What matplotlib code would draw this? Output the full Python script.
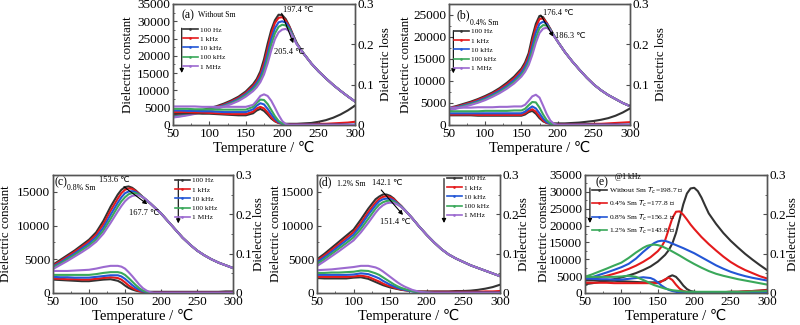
import matplotlib
matplotlib.use("Agg")
import matplotlib.pyplot as plt
from matplotlib.lines import Line2D
from matplotlib.ticker import MultipleLocator, FuncFormatter
from matplotlib.font_manager import FontProperties

plt.rcParams['font.family'] = ['Liberation Serif', 'DejaVu Sans']
plt.rcParams['mathtext.fontset'] = 'stix'

# ── Data ──────────────────────────────────────────────────────────────────────
FREQS = ["100 Hz", "1 kHz", "10 kHz", "100 kHz", "1 MHz"]
COLORS = ["#333333", "#e41a1c", "#2356d6", "#3aa85a", "#9c6ad0"]

# (a) without Sm
ta = [50, 60, 70, 80, 90, 100, 110, 120, 130, 140, 150, 160, 165, 170, 175, 180,
      185, 190, 195, 200, 205, 210, 215, 220, 230, 240, 250, 260, 270, 280, 290, 300]
a_eps_100 = [2800, 3100, 3450, 3850, 4300, 4850, 5450, 6200, 7100, 8200, 9700, 11800, 13300, 15500, 19000, 23500,
             27500, 30300, 31900, 31800, 30600, 28500, 26000, 23700, 20500, 17800, 15500, 13500, 11600, 9900, 8300, 6800]
a_eps_1k = [2600, 2900, 3250, 3650, 4100, 4600, 5200, 5900, 6800, 7850, 9300, 11300, 12700, 14700, 17800, 22000,
            26300, 29500, 31000, 31200, 30200, 28300, 25900, 23600, 20500, 17800, 15500, 13500, 11600, 9900, 8300, 6800]
a_eps_10k = [2450, 2750, 3100, 3500, 3950, 4450, 5000, 5700, 6550, 7550, 8950, 10800, 12100, 13900, 16700, 20600,
             24800, 28000, 29700, 30000, 29600, 28000, 25800, 23500, 20500, 17800, 15500, 13500, 11600, 9900, 8300, 6800]
a_eps_100k = [2300, 2600, 2950, 3350, 3800, 4300, 4850, 5500, 6300, 7250, 8600, 10300, 11500, 13100, 15600, 19200,
              23300, 26500, 28400, 29000, 28800, 27600, 25600, 23400, 20500, 17800, 15500, 13500, 11600, 9900, 8300, 6800]
a_eps_1m = [2150, 2450, 2800, 3200, 3650, 4150, 4700, 5300, 6050, 6950, 8200, 9800, 10900, 12400, 14600, 17800,
            21600, 24800, 26800, 27600, 27800, 27100, 25400, 23300, 20500, 17800, 15500, 13500, 11600, 9900, 8300, 6800]
a_loss_100 = [0.029, 0.029, 0.029, 0.029, 0.028, 0.028, 0.027, 0.026, 0.025, 0.024, 0.024, 0.029, 0.036, 0.040, 0.035, 0.026,
              0.016, 0.009, 0.005, 0.004, 0.003, 0.003, 0.003, 0.003, 0.004, 0.005, 0.008, 0.012, 0.018, 0.026, 0.036, 0.048]
a_loss_1k = [0.032, 0.032, 0.032, 0.031, 0.031, 0.030, 0.029, 0.028, 0.027, 0.027, 0.027, 0.033, 0.041, 0.045, 0.041, 0.031,
             0.019, 0.010, 0.005, 0.003, 0.002, 0.002, 0.002, 0.002, 0.002, 0.002, 0.003, 0.003, 0.004, 0.005, 0.006, 0.008]
a_loss_10k = [0.036, 0.036, 0.035, 0.035, 0.034, 0.034, 0.033, 0.032, 0.032, 0.032, 0.032, 0.039, 0.048, 0.054, 0.051, 0.040,
              0.027, 0.015, 0.007, 0.003, 0.001, 0.001, 0.001, 0.001, 0.001, 0.001, 0.001, 0.001, 0.001, 0.001, 0.001, 0.001]
a_loss_100k = [0.040, 0.040, 0.040, 0.039, 0.039, 0.039, 0.038, 0.038, 0.038, 0.038, 0.038, 0.045, 0.055, 0.063, 0.062, 0.052,
               0.037, 0.022, 0.010, 0.004, 0.001, 0.000, 0.000, 0.000, 0.000, 0.000, 0.000, 0.000, 0.000, 0.000, 0.000, 0.000]
a_loss_1m = [0.046, 0.046, 0.046, 0.046, 0.045, 0.045, 0.045, 0.045, 0.045, 0.045, 0.045, 0.050, 0.060, 0.072, 0.076, 0.072,
             0.060, 0.043, 0.025, 0.010, 0.002, 0.000, 0.000, 0.000, 0.000, 0.000, 0.000, 0.000, 0.000, 0.000, 0.000, 0.000]

# (b) 0.4% Sm
tb = [50, 60, 70, 80, 90, 100, 110, 120, 130, 140, 150, 155, 160, 165, 170, 175,
      180, 185, 190, 195, 200, 210, 220, 230, 240, 250, 260, 270, 280, 290, 300]
b_eps_100 = [3900, 4300, 4800, 5300, 5900, 6600, 7400, 8400, 9600, 11000, 12800, 14200, 16300, 20000, 23000, 24800,
             24500, 23200, 21800, 20300, 19000, 16600, 14500, 12600, 10800, 9200, 7900, 6800, 5900, 5000, 4300]
b_eps_1k = [3750, 4150, 4600, 5100, 5700, 6350, 7150, 8100, 9250, 10600, 12400, 13700, 15600, 18900, 22200, 24100,
            24200, 23200, 21800, 20300, 19000, 16600, 14500, 12600, 10800, 9200, 7900, 6800, 5900, 5000, 4300]
b_eps_10k = [3600, 4000, 4450, 4900, 5450, 6100, 6900, 7800, 8900, 10200, 11900, 13200, 14900, 17800, 21000, 23000,
             23500, 23000, 21700, 20300, 19000, 16600, 14500, 12600, 10800, 9200, 7900, 6800, 5900, 5000, 4300]
b_eps_100k = [3450, 3850, 4300, 4750, 5250, 5850, 6650, 7500, 8550, 9800, 11400, 12600, 14200, 16800, 19800, 22000,
              22700, 22600, 21600, 20300, 19000, 16600, 14500, 12600, 10800, 9200, 7900, 6800, 5900, 5000, 4300]
b_eps_1m = [3300, 3700, 4100, 4550, 5050, 5650, 6400, 7250, 8250, 9450, 11000, 12100, 13600, 15900, 18700, 20900,
            21900, 22100, 21500, 20200, 19000, 16600, 14500, 12600, 10800, 9200, 7900, 6800, 5900, 5000, 4300]
b_loss_100 = [0.024, 0.024, 0.024, 0.024, 0.023, 0.023, 0.023, 0.023, 0.023, 0.023, 0.023, 0.026, 0.032, 0.035, 0.028, 0.017,
              0.009, 0.005, 0.004, 0.004, 0.004, 0.004, 0.005, 0.006, 0.008, 0.010, 0.013, 0.017, 0.023, 0.031, 0.041]
b_loss_1k = [0.026, 0.026, 0.026, 0.026, 0.025, 0.025, 0.025, 0.025, 0.025, 0.025, 0.025, 0.029, 0.035, 0.039, 0.033, 0.021,
             0.011, 0.005, 0.003, 0.002, 0.002, 0.002, 0.002, 0.002, 0.002, 0.003, 0.003, 0.004, 0.005, 0.006, 0.007]
b_loss_10k = [0.029, 0.029, 0.029, 0.029, 0.029, 0.029, 0.029, 0.029, 0.029, 0.029, 0.029, 0.033, 0.040, 0.046, 0.041, 0.029,
              0.016, 0.007, 0.003, 0.001, 0.001, 0.001, 0.001, 0.001, 0.001, 0.001, 0.001, 0.001, 0.001, 0.001, 0.001]
b_loss_100k = [0.034, 0.034, 0.034, 0.034, 0.034, 0.035, 0.035, 0.035, 0.035, 0.036, 0.036, 0.040, 0.049, 0.057, 0.056, 0.043,
               0.026, 0.012, 0.004, 0.001, 0.000, 0.000, 0.000, 0.000, 0.000, 0.000, 0.000, 0.000, 0.000, 0.000, 0.000]
b_loss_1m = [0.043, 0.043, 0.043, 0.043, 0.044, 0.044, 0.044, 0.045, 0.045, 0.046, 0.046, 0.050, 0.060, 0.071, 0.075, 0.068,
             0.048, 0.027, 0.011, 0.003, 0.000, 0.000, 0.000, 0.000, 0.000, 0.000, 0.000, 0.000, 0.000, 0.000, 0.000]

# (c) 0.8% Sm
tc = [50, 60, 70, 80, 90, 100, 110, 120, 130, 140, 145, 150, 155, 160, 165, 170,
      175, 180, 185, 190, 200, 210, 220, 230, 240, 250, 260, 270, 280, 290, 300]
c_eps_100 = [4200, 4900, 5600, 6300, 7100, 7900, 9000, 10700, 12800, 14600, 15300, 15700, 15800, 15600, 15200, 14700,
             14200, 13700, 13300, 12800, 11800, 10600, 9400, 8200, 7200, 6300, 5600, 5000, 4500, 4100, 3700]
c_eps_1k = [4050, 4700, 5400, 6100, 6850, 7650, 8650, 10200, 12200, 14000, 14800, 15300, 15500, 15450, 15100, 14650,
            14200, 13750, 13300, 12800, 11800, 10600, 9400, 8200, 7200, 6300, 5600, 5000, 4500, 4100, 3700]
c_eps_10k = [3900, 4500, 5200, 5850, 6600, 7350, 8300, 9700, 11600, 13400, 14200, 14800, 15050, 15100, 14950, 14600,
             14200, 13750, 13300, 12800, 11800, 10600, 9400, 8200, 7200, 6300, 5600, 5000, 4500, 4100, 3700]
c_eps_100k = [3750, 4350, 5000, 5650, 6350, 7050, 7950, 9250, 11000, 12800, 13600, 14200, 14650, 14800, 14800, 14550,
              14200, 13750, 13300, 12800, 11800, 10600, 9400, 8200, 7200, 6300, 5600, 5000, 4500, 4100, 3700]
c_eps_1m = [3550, 4150, 4750, 5400, 6050, 6750, 7600, 8800, 10400, 12100, 12900, 13600, 14100, 14400, 14500, 14450,
            14200, 13800, 13300, 12800, 11800, 10600, 9400, 8200, 7200, 6300, 5600, 5000, 4500, 4100, 3700]
c_loss_100 = [0.034, 0.033, 0.032, 0.031, 0.030, 0.030, 0.032, 0.034, 0.035, 0.031, 0.026, 0.019, 0.013, 0.009, 0.006, 0.004,
              0.003, 0.003, 0.003, 0.003, 0.003, 0.003, 0.003, 0.003, 0.003, 0.003, 0.003, 0.003, 0.003, 0.004, 0.004]
c_loss_1k = [0.037, 0.036, 0.035, 0.035, 0.034, 0.034, 0.036, 0.038, 0.040, 0.038, 0.034, 0.027, 0.019, 0.013, 0.008, 0.005,
             0.003, 0.002, 0.002, 0.002, 0.002, 0.002, 0.002, 0.002, 0.002, 0.002, 0.002, 0.002, 0.002, 0.002, 0.002]
c_loss_10k = [0.041, 0.040, 0.040, 0.039, 0.039, 0.039, 0.041, 0.043, 0.045, 0.045, 0.042, 0.036, 0.028, 0.020, 0.013, 0.008,
              0.004, 0.002, 0.001, 0.001, 0.001, 0.001, 0.001, 0.001, 0.001, 0.001, 0.001, 0.001, 0.001, 0.001, 0.001]
c_loss_100k = [0.046, 0.046, 0.046, 0.046, 0.046, 0.046, 0.048, 0.051, 0.053, 0.053, 0.051, 0.046, 0.038, 0.029, 0.020, 0.012,
               0.006, 0.003, 0.001, 0.000, 0.000, 0.000, 0.000, 0.000, 0.000, 0.000, 0.000, 0.000, 0.000, 0.000, 0.000]
c_loss_1m = [0.056, 0.056, 0.056, 0.057, 0.058, 0.059, 0.062, 0.066, 0.069, 0.069, 0.067, 0.062, 0.053, 0.043, 0.032, 0.021,
             0.012, 0.006, 0.002, 0.000, 0.000, 0.000, 0.000, 0.000, 0.000, 0.000, 0.000, 0.000, 0.000, 0.000, 0.000]

# (d) 1.2% Sm
td = [50, 60, 70, 80, 90, 100, 110, 120, 130, 135, 140, 145, 150, 155, 160, 165,
      170, 180, 190, 200, 210, 220, 230, 240, 250, 260, 270, 280, 290, 300]
d_eps_100 = [5000, 5800, 6700, 7600, 8500, 9400, 10900, 12500, 13900, 14300, 14600, 14600, 14400, 14000, 13400, 12900,
             12300, 11100, 9800, 8600, 7500, 6500, 5700, 5100, 4600, 4100, 3700, 3300, 2900, 2500]
d_eps_1k = [4800, 5550, 6400, 7250, 8150, 9000, 10400, 12000, 13400, 13950, 14250, 14350, 14200, 13900, 13400, 12900,
            12300, 11100, 9800, 8600, 7500, 6500, 5700, 5100, 4600, 4100, 3700, 3300, 2900, 2500]
d_eps_10k = [4550, 5300, 6100, 6950, 7800, 8650, 10000, 11600, 13000, 13600, 13900, 14000, 13950, 13700, 13300, 12850,
             12300, 11100, 9800, 8600, 7500, 6500, 5700, 5100, 4600, 4100, 3700, 3300, 2900, 2500]
d_eps_100k = [4300, 5000, 5800, 6600, 7400, 8250, 9500, 11000, 12500, 13100, 13450, 13650, 13700, 13550, 13200, 12800,
              12300, 11100, 9800, 8600, 7500, 6500, 5700, 5100, 4600, 4100, 3700, 3300, 2900, 2500]
d_eps_1m = [4000, 4700, 5450, 6200, 7000, 7800, 9000, 10400, 11900, 12550, 13000, 13300, 13400, 13350, 13100, 12750,
            12300, 11100, 9800, 8600, 7500, 6500, 5700, 5100, 4600, 4100, 3700, 3300, 2900, 2500]
d_loss_100 = [0.038, 0.037, 0.037, 0.037, 0.037, 0.039, 0.040, 0.036, 0.028, 0.024, 0.020, 0.017, 0.014, 0.012, 0.010, 0.008,
              0.007, 0.005, 0.004, 0.004, 0.004, 0.004, 0.004, 0.005, 0.005, 0.006, 0.008, 0.011, 0.015, 0.021]
d_loss_1k = [0.041, 0.041, 0.041, 0.041, 0.041, 0.042, 0.044, 0.041, 0.033, 0.029, 0.024, 0.020, 0.017, 0.014, 0.011, 0.009,
             0.007, 0.005, 0.003, 0.003, 0.003, 0.003, 0.003, 0.003, 0.003, 0.003, 0.003, 0.004, 0.004, 0.005]
d_loss_10k = [0.046, 0.046, 0.046, 0.046, 0.046, 0.047, 0.050, 0.048, 0.041, 0.037, 0.031, 0.026, 0.021, 0.017, 0.013, 0.010,
              0.008, 0.004, 0.002, 0.001, 0.001, 0.001, 0.001, 0.001, 0.001, 0.001, 0.001, 0.001, 0.001, 0.001]
d_loss_100k = [0.051, 0.051, 0.052, 0.052, 0.053, 0.054, 0.057, 0.056, 0.050, 0.046, 0.040, 0.034, 0.028, 0.022, 0.017, 0.013,
               0.010, 0.005, 0.002, 0.001, 0.000, 0.000, 0.000, 0.000, 0.000, 0.000, 0.000, 0.000, 0.000, 0.000]
d_loss_1m = [0.058, 0.059, 0.060, 0.062, 0.064, 0.066, 0.069, 0.069, 0.065, 0.061, 0.055, 0.048, 0.041, 0.034, 0.027, 0.021,
             0.016, 0.008, 0.003, 0.001, 0.000, 0.000, 0.000, 0.000, 0.000, 0.000, 0.000, 0.000, 0.000, 0.000]

# (e) 1 kHz comparison
E_LABELS = ["Without Sm $T_c$=198.7 ℃", "0.4% Sm $T_c$=177.8 ℃",
            "0.8% Sm $T_c$=156.2 ℃", "1.2% Sm $T_c$=143.8 ℃"]


# ── Helpers ───────────────────────────────────────────────────────────────────
def style_axes(ax, ax2, ymax, ystep, lab_l, lab_r):
    ax.set_xlim(50, 300)
    ax.set_ylim(0, ymax)
    ax2.set_ylim(0, 0.3)
    ax.xaxis.set_major_locator(MultipleLocator(50))
    ax.xaxis.set_minor_locator(MultipleLocator(25))
    ax.yaxis.set_major_locator(MultipleLocator(ystep))
    ax.yaxis.set_minor_locator(MultipleLocator(ystep / 2))
    ax2.yaxis.set_major_locator(MultipleLocator(0.1))
    ax2.yaxis.set_minor_locator(MultipleLocator(0.05))
    ax2.yaxis.set_major_formatter(FuncFormatter(lambda v, p: "0" if abs(v) < 1e-9 else f"{v:.1f}"))
    for a in (ax, ax2):
        a.tick_params(which="both", direction="in", labelsize=9.5, pad=2, color="#4d4d4d")
        a.tick_params(which="major", length=3)
        a.tick_params(which="minor", length=1.5)
        for s in a.spines.values():
            s.set_color("#555555")
            s.set_linewidth(1.0)
    ax.tick_params(right=False, top=False)
    ax2.tick_params(left=False, top=False)
    ax.set_xlabel("Temperature / ℃", fontsize=10.5, labelpad=1)
    ax.set_ylabel("Dielectric constant", fontsize=9.3)
    ax2.set_ylabel("Dielectric loss", fontsize=9.3)
    # left label anchored at its right edge, right label at its left edge
    ax.yaxis.set_label_coords(lab_l, 0.5)
    ax2.yaxis.set_label_coords(lab_r, 0.5)


def draw_panel(rect, t, eps, loss, ymax, ystep, lab_l, lab_r):
    ax = fig.add_axes(rect)
    ax2 = ax.twinx()
    for y, c in zip(eps, COLORS):
        ax.plot(t, y, color=c, lw=1.5)
    for y, c in zip(loss, COLORS):
        ax2.plot(t, y, color=c, lw=1.5)
    style_axes(ax, ax2, ymax, ystep, lab_l, lab_r)
    return ax, ax2


def legend(ax, labels, x, y, prop=None):
    if prop is None:
        prop = FontProperties(size=5.3)
    handles = [Line2D([], [], color=c, lw=1.2, marker=".", ms=1.8) for c in COLORS[:len(labels)]]
    ax.legend(handles, labels, loc="upper left", bbox_to_anchor=(x, y), frameon=False,
              prop=prop, handlelength=2.0, handletextpad=0.3, labelspacing=0.42,
              borderpad=0, borderaxespad=0)


def arrow(ax, x0, y0, x1, y1):
    ax.annotate("", xy=(x1, y1), xytext=(x0, y0), xycoords="axes fraction",
                arrowprops=dict(arrowstyle="-|>", color="k", lw=0.8, mutation_scale=6,
                                shrinkA=0, shrinkB=0))


def note(ax, x, y, s, fs=6):
    ax.text(x, y, s, transform=ax.transAxes, fontsize=fs, ha="left", va="center")


fig = plt.figure(figsize=(8, 3.25), dpi=100)

# (a)
_, a2 = draw_panel([0.21625, 0.6154, 0.2275, 0.3723], ta,
                   [a_eps_100, a_eps_1k, a_eps_10k, a_eps_100k, a_eps_1m],
                   [a_loss_100, a_loss_1k, a_loss_10k, a_loss_100k, a_loss_1m], 35000, 5000, -0.214, 1.137)
note(a2, 0.045, 0.909, "(a)", fs=8.5)
note(a2, 0.137, 0.905, "Without Sm", fs=5.6)
legend(a2, FREQS, 0.055, 0.815)
arrow(a2, 0.048, 0.80, 0.048, 0.43)
note(a2, 0.604, 0.95, "197.4 ℃")
note(a2, 0.555, 0.606, "205.4 ℃")
arrow(a2, 0.597, 0.923, 0.661, 0.676)

# (b)
_, b2 = draw_panel([0.56125, 0.6154, 0.22625, 0.3723], tb,
                   [b_eps_100, b_eps_1k, b_eps_10k, b_eps_100k, b_eps_1m],
                   [b_loss_100, b_loss_1k, b_loss_10k, b_loss_100k, b_loss_1m], 27500, 5000, -0.204, 1.138)
note(b2, 0.040, 0.909, "(b)", fs=8.5)
note(b2, 0.116, 0.843, "0.4% Sm", fs=5.6)
legend(b2, FREQS, 0.028, 0.80)
arrow(b2, 0.024, 0.78, 0.024, 0.427)
note(b2, 0.518, 0.928, "176.4 ℃")
note(b2, 0.586, 0.736, "186.3 ℃")
arrow(b2, 0.507, 0.909, 0.576, 0.73)

# (c)
_, c2 = draw_panel([0.06625, 0.0985, 0.225, 0.3631], tc,
                   [c_eps_100, c_eps_1k, c_eps_10k, c_eps_100k, c_eps_1m],
                   [c_loss_100, c_loss_1k, c_loss_10k, c_loss_100k, c_loss_1m], 17500, 5000, -0.228, 1.111)
note(c2, 0.011, 0.94, "(c)", fs=8.5)
note(c2, 0.078, 0.89, "0.8% Sm", fs=5.6)
note(c2, 0.256, 0.958, "153.6 ℃")
note(c2, 0.422, 0.678, "167.7 ℃")
arrow(c2, 0.394, 0.90, 0.524, 0.752)
legend(c2, FREQS, 0.678, 0.98)
arrow(c2, 0.696, 0.96, 0.696, 0.59)

# (d)
_, d2 = draw_panel([0.39625, 0.0985, 0.22875, 0.3631], td,
                   [d_eps_100, d_eps_1k, d_eps_10k, d_eps_100k, d_eps_1m],
                   [d_loss_100, d_loss_1k, d_loss_10k, d_loss_100k, d_loss_1m], 17500, 5000, -0.191, 1.098)
note(d2, 0.007, 0.94, "(d)", fs=8.5)
note(d2, 0.109, 0.924, "1.2% Sm", fs=5.6)
note(d2, 0.30, 0.935, "142.1 ℃")
note(d2, 0.344, 0.604, "151.4 ℃")
arrow(d2, 0.351, 0.873, 0.47, 0.661)
legend(d2, FREQS, 0.71, 0.998)
arrow(d2, 0.694, 0.97, 0.694, 0.593)

# (e) – 1 kHz curves of the four compositions
e_ax = fig.add_axes([0.73125, 0.0985, 0.2275, 0.3631])
e2 = e_ax.twinx()
for t, y, c in zip([ta, tb, tc, td], [a_eps_1k, b_eps_1k, c_eps_1k, d_eps_1k], COLORS):
    e_ax.plot(t, y, color=c, lw=1.5)
for t, y, c in zip([ta, tb, tc, td], [a_loss_1k, b_loss_1k, c_loss_1k, d_loss_1k], COLORS):
    e2.plot(t, y, color=c, lw=1.5)
style_axes(e_ax, e2, 35000, 5000, -0.192, 1.11)
note(e2, 0.055, 0.936, "(e)", fs=8.5)
note(e2, 0.165, 0.986, "@1 kHz", fs=5.6)
legend(e2, E_LABELS, 0.037, 0.91, prop=FontProperties(size=5.4, math_fontfamily="dejavusans"))
arrow(e2, 0.027, 0.89, 0.027, 0.593)

fig.savefig("out.png", dpi=100)
